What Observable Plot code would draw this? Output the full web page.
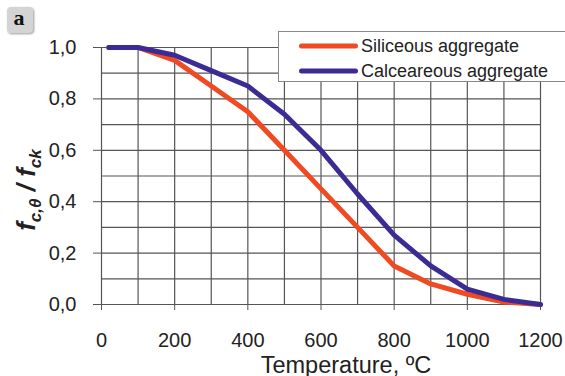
<!DOCTYPE html>
<html><head><meta charset="utf-8">
<script src="https://cdn.jsdelivr.net/npm/d3@7"></script>
<script src="https://cdn.jsdelivr.net/npm/@observablehq/plot@0.6"></script>
<style>body{margin:0;background:#fff;}</style>
</head><body><div id="chart"></div>
<script>
const temperatures = [20, 100, 200, 300, 400, 500, 600, 700, 800, 900, 1000, 1100, 1200];
const siliceous = [1.00, 1.00, 0.95, 0.85, 0.75, 0.60, 0.45, 0.30, 0.15, 0.08, 0.04, 0.01, 0.00];
const calcareous = [1.00, 1.00, 0.97, 0.91, 0.85, 0.74, 0.60, 0.43, 0.27, 0.15, 0.06, 0.02, 0.00];
const seriesNames = ["Siliceous aggregate", "Calceareous aggregate"];
const seriesColors = ["#f04a22", "#3a2c94"];
const xTicks = [0, 200, 400, 600, 800, 1000, 1200];
const xGrid = [0, 100, 200, 300, 400, 500, 600, 700, 800, 900, 1000, 1100, 1200];
const yTicks = [0, 0.2, 0.4, 0.6, 0.8, 1.0];
const yGrid = [0, 0.1, 0.2, 0.3, 0.4, 0.5, 0.6, 0.7, 0.8, 0.9, 1.0];
const xLabel = "Temperature, ºC";
const panelLabel = "a";

const data = [
  ...temperatures.map((t, i) => ({T: t, v: siliceous[i], s: seriesNames[0]})),
  ...temperatures.map((t, i) => ({T: t, v: calcareous[i], s: seriesNames[1]}))
];

const chart = Plot.plot({
  width: 565, height: 376,
  marginLeft: 101, marginRight: 25, marginTop: 47, marginBottom: 72,
  style: {fontFamily: "'Liberation Sans', Arial, sans-serif", fontSize: "20px", color: "#222", background: "#fff", overflow: "visible"},
  x: {domain: [0, 1200]},
  y: {domain: [0, 1]},
  color: {domain: seriesNames, range: seriesColors},
  marks: [
    Plot.gridX(xGrid, {stroke: "#555", strokeOpacity: 1, strokeWidth: 1.2}),
    Plot.gridY(yGrid, {stroke: "#555", strokeOpacity: 1, strokeWidth: 1.2}),
    Plot.axisX(xTicks, {tickSize: 6, tickPadding: 22, label: null, stroke: "#555", fill: "#222",
      tickFormat: d => String(d)}),
    Plot.axisY(yTicks, {tickSize: 8, tickPadding: 17, label: null, stroke: "#555", fill: "#222",
      tickFormat: d => d.toFixed(1).replace(".", ",")}),
    Plot.line(data, {x: "T", y: "v", stroke: "s", z: "s", strokeWidth: 5, strokeLinejoin: "round", strokeLinecap: "round"})
  ]
});
document.getElementById("chart").appendChild(chart);

const svg = d3.select(chart);
// legend
const lg = svg.append("g").attr("text-anchor", "start");
lg.append("rect").attr("x", 278.5).attr("y", 31.5).attr("width", 300).attr("height", 50)
  .attr("fill", "#fff").attr("stroke", "#888").attr("stroke-width", 1);
seriesNames.forEach((name, i) => {
  const y = 46 + i * 25;
  lg.append("rect").attr("x", 299).attr("y", y - 2.5).attr("width", 59).attr("height", 5).attr("rx", 2.5)
    .attr("fill", seriesColors[i]);
  lg.append("text").attr("x", 361).attr("y", y).attr("dy", "0.35em").attr("text-anchor", "start")
    .attr("font-size", 18).attr("fill", "#222").text(name);
});
// x label
svg.append("text").attr("x", 346).attr("y", 373).attr("text-anchor", "middle")
  .attr("font-size", 23.5).attr("fill", "#222").text(xLabel);
// y label
const yl = svg.append("text").attr("transform", "translate(35,190) rotate(-90)").attr("text-anchor", "middle")
  .attr("font-size", 26).attr("font-style", "italic").attr("font-weight", "bold").attr("fill", "#222");
yl.append("tspan").text("f");
yl.append("tspan").attr("font-size", 17).attr("dy", 6).text("c,θ");
yl.append("tspan").attr("dy", -6).text(" / ");
yl.append("tspan").text("f");
yl.append("tspan").attr("font-size", 17).attr("dy", 6).text("ck");
// panel label
const defs = svg.append("defs");
const flt = defs.append("filter").attr("id", "sh").attr("x", "-30%").attr("y", "-30%").attr("width", "160%").attr("height", "160%");
flt.append("feDropShadow").attr("dx", 1).attr("dy", 1).attr("stdDeviation", 1).attr("flood-color", "#999");
svg.append("rect").attr("x", 7).attr("y", 7).attr("width", 26).attr("height", 26).attr("rx", 4)
  .attr("fill", "#d4d4d4").attr("filter", "url(#sh)");
svg.append("text").attr("x", 19).attr("y", 25).attr("text-anchor", "middle")
  .attr("font-family", "'Liberation Serif', 'DejaVu Serif', serif").attr("font-weight", "bold")
  .attr("font-size", 22).attr("fill", "#111").text(panelLabel);
</script></body></html>
